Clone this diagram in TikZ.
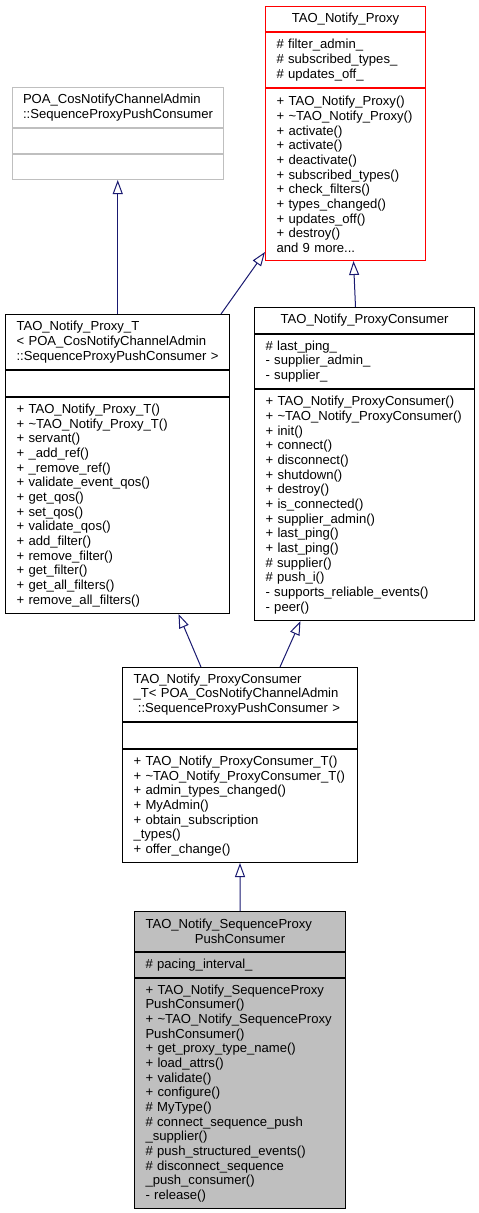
\documentclass[tikz,border=0pt]{standalone}
\usepackage{fontspec}
\setmainfont{Liberation Sans}
\usetikzlibrary{arrows.meta}
\definecolor{edgeblue}{HTML}{191970}
\definecolor{boxgray}{HTML}{BFBFBF}
\begin{document}
\begin{tikzpicture}[x=1bp,y=-1bp,>={Triangle[open,length=14bp,width=10bp]},
		part/.style 2 args={draw,line width=1bp,anchor=north west,inner xsep=11bp,inner ysep=0pt,
			minimum width=#1bp,minimum height=#2bp,text width=#1bp-22bp,align=left,
			font=\fontsize{13.1bp}{14.67bp}\selectfont},
		inh/.style={->,draw=edgeblue,line width=1bp}]
		\useasboundingbox (0,0) rectangle (479,1213);
		% TAO_Notify_Proxy
		\node[part={160}{25},draw=red,align=center] (proxyH) at (265,6) {TAO\_Notify\_Proxy};
		\node[part={160}{55},draw=red] (proxyA) at (proxyH.south west) {\# filter\_admin\_\\\# subscribed\_types\_\\\# updates\_off\_};
		\node[part={160}{172},draw=red] (proxyO) at (proxyA.south west) {+ TAO\_Notify\_Proxy()\\+ \textasciitilde TAO\_Notify\_Proxy()\\+ activate()\\+ activate()\\+ deactivate()\\+ subscribed\_types()\\+ check\_filters()\\+ types\_changed()\\+ updates\_off()\\+ destroy()\\and 9 more...};
		% POA base
		\node[part={211.5}{40},draw=boxgray] (poaH) at (11.5,87) {POA\_CosNotifyChannelAdmin\\::SequenceProxyPushConsumer};
		\node[part={211.5}{25},draw=boxgray] (poaA) at (poaH.south west) {};
		\node[part={211.5}{25},draw=boxgray] (poaO) at (poaA.south west) {};
		% TAO_Notify_Proxy_T
		\node[part={224}{55}] (proxyTH) at (5,314) {TAO\_Notify\_Proxy\_T\\< POA\_CosNotifyChannelAdmin\\::SequenceProxyPushConsumer~>};
		\node[part={224}{26}] (proxyTA) at (proxyTH.south west) {};
		\node[part={224}{216}] (proxyTO) at (proxyTA.south west) {+ TAO\_Notify\_Proxy\_T()\\+ \textasciitilde TAO\_Notify\_Proxy\_T()\\+ servant()\\+ \_add\_ref()\\+ \_remove\_ref()\\+ validate\_event\_qos()\\+ get\_qos()\\+ set\_qos()\\+ validate\_qos()\\+ add\_filter()\\+ remove\_filter()\\+ get\_filter()\\+ get\_all\_filters()\\+ remove\_all\_filters()};
		% TAO_Notify_ProxyConsumer
		\node[part={220}{26},align=center] (pconsH) at (254,307) {TAO\_Notify\_ProxyConsumer};
		\node[part={220}{54}] (pconsA) at (pconsH.south west) {\# last\_ping\_\\- supplier\_admin\_\\- supplier\_};
		\node[part={220}{231}] (pconsO) at (pconsA.south west) {+ TAO\_Notify\_ProxyConsumer()\\+ \textasciitilde TAO\_Notify\_ProxyConsumer()\\+ init()\\+ connect()\\+ disconnect()\\+ shutdown()\\+ destroy()\\+ is\_connected()\\+ supplier\_admin()\\+ last\_ping()\\+ last\_ping()\\\# supplier()\\\# push\_i()\\- supports\_reliable\_events()\\- peer()};
		% TAO_Notify_ProxyConsumer_T
		\node[part={235}{54}] (pconsTH) at (122,667) {TAO\_Notify\_ProxyConsumer\\\_T< POA\_CosNotifyChannelAdmin\\\ ::SequenceProxyPushConsumer~>};
		\node[part={235}{26}] (pconsTA) at (pconsTH.south west) {};
		\node[part={235}{113}] (pconsTO) at (pconsTA.south west) {+ TAO\_Notify\_ProxyConsumer\_T()\\+ \textasciitilde TAO\_Notify\_ProxyConsumer\_T()\\+ admin\_types\_changed()\\+ MyAdmin()\\+ obtain\_subscription\\\_types()\\+ offer\_change()};
		% TAO_Notify_SequenceProxyPushConsumer
		\node[part={211}{40},fill=boxgray] (seqH) at (134,911) {TAO\_Notify\_SequenceProxy\\\makebox[\linewidth]{PushConsumer}};
		\node[part={211}{25},fill=boxgray] (seqA) at (seqH.south west) {\# pacing\_interval\_};
		\node[part={211}{230},fill=boxgray] (seqO) at (seqA.south west) {+ TAO\_Notify\_SequenceProxy\\PushConsumer()\\+ \textasciitilde TAO\_Notify\_SequenceProxy\\PushConsumer()\\+ get\_proxy\_type\_name()\\+ load\_attrs()\\+ validate()\\+ configure()\\\# MyType()\\\# connect\_sequence\_push\\\_supplier()\\\# push\_structured\_events()\\\# disconnect\_sequence\\\_push\_consumer()\\- release()};
		% inheritance
		\draw[inh] (poaO.south |- proxyTH.north) -- (poaO.south);
		\draw[inh] ([xshift=-9bp]proxyTH.north east) -- ([yshift=9bp]proxyO.south west);
		\draw[inh] ([xshift=-9bp]pconsH.north) -- ([xshift=8bp]proxyO.south);
		\draw[inh] ([xshift=-39bp]pconsTH.north) -- ([xshift=61bp]proxyTO.south);
		\draw[inh] ([xshift=40bp]pconsTH.north) -- ([xshift=-64bp]pconsO.south);
		\draw[inh] (seqH.north) -- (pconsTO.south);
\end{tikzpicture}
\end{document}
